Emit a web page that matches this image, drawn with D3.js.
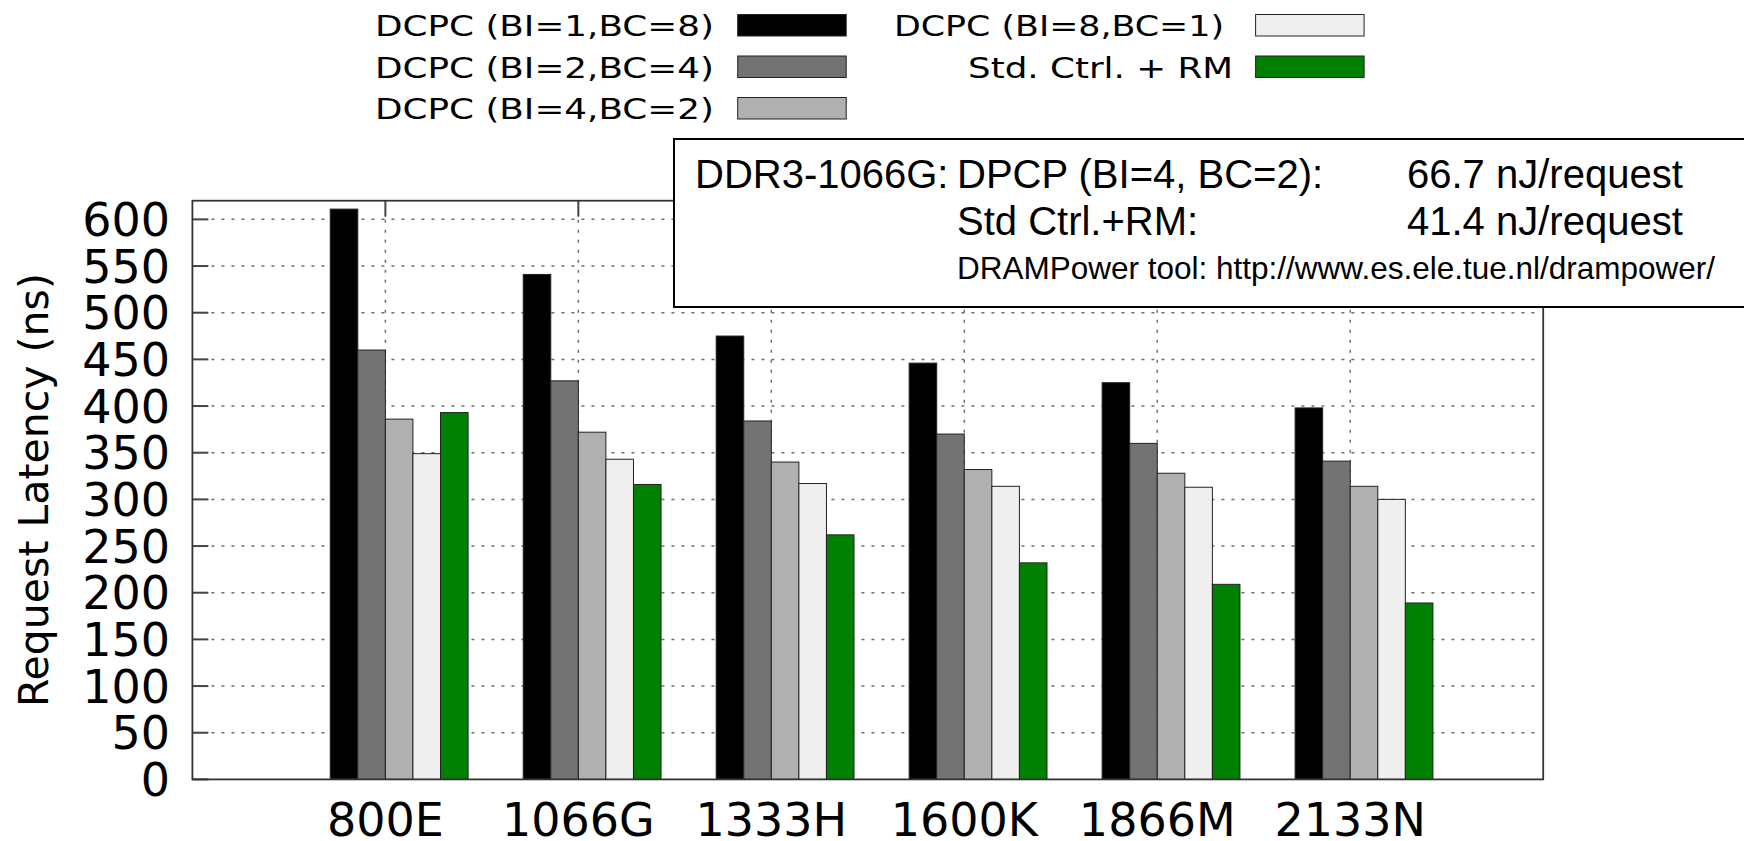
<!DOCTYPE html>
<html>
<head>
    <meta charset="utf-8">
    <title>Request Latency</title>
    <script src="https://d3js.org/d3.v7.min.js"></script>
    <style>
        body { margin: 0; background: #fff; }
        svg { display: block; }
    </style>
</head>
<body>
<svg id="chart" width="1744" height="841"></svg>

<script>
    // Categories (DDR3 speed bins)
    var categories = ["800E", "1066G", "1333H", "1600K", "1866M", "2133N"];

    // Series names and values (ns)
    var seriesNames = ["DCPC (BI=1,BC=8)", "DCPC (BI=2,BC=4)", "DCPC (BI=4,BC=2)",
                       "DCPC (BI=8,BC=1)", "Std. Ctrl. + RM"];
    var bi1bc8    = [611, 541, 475, 446, 425, 398];
    var bi2bc4    = [460, 427, 384, 370, 360, 341];
    var bi4bc2    = [386, 372, 340, 332, 328, 314];
    var bi8bc1    = [349, 343, 317, 314, 313, 300];
    var stdCtrlRm = [393, 316, 262, 232, 209, 189];
    var seriesColors = ["#000000", "#737373", "#b0b0b0", "#efefef", "#008000"];

    // Y axis ticks
    var yTicks = [0, 50, 100, 150, 200, 250, 300, 350, 400, 450, 500, 550, 600];

    // Annotation box text
    var noteHead = "DDR3-1066G:";
    var noteLabels = ["DPCP (BI=4, BC=2):", "Std Ctrl.+RM:"];
    var noteValues = ["66.7 nJ/request", "41.4 nJ/request"];
    var noteSource = "DRAMPower tool: http://www.es.ele.tue.nl/drampower/";

    var series = [bi1bc8, bi2bc4, bi4bc2, bi8bc1, stdCtrlRm];

    var svg = d3.select("#chart");

    var plotL = 192.4, plotR = 1543.2, plotT = 200.7, plotB = 779.4;

    // Scales: categories sit at 0..5, frame spans -1..6
    var x = d3.scaleLinear().domain([-1, 6]).range([plotL, plotR]);
    var y = d3.scaleLinear().domain([0, 620]).range([plotB, plotT]);
    var barW = x(1 / 7) - x(0);

    // Grid (dotted, behind the bars)
    var grid = svg.append("g")
        .attr("stroke", "#707070")
        .attr("stroke-width", 1.5)
        .attr("stroke-dasharray", "3,7");
    grid.selectAll("line.h")
        .data(yTicks.filter(function(d) { return d > 0; }))
        .enter().append("line")
        .attr("class", "h")
        .attr("x1", plotL + 19).attr("x2", plotR - 8)
        .attr("y1", function(d) { return y(d); })
        .attr("y2", function(d) { return y(d); });
    grid.selectAll("line.v")
        .data(categories)
        .enter().append("line")
        .attr("class", "v")
        .attr("x1", function(d, i) { return x(i); })
        .attr("x2", function(d, i) { return x(i); })
        .attr("y1", plotT + 19).attr("y2", plotB);

    // Bars
    series.forEach(function(values, s) {
        svg.append("g")
            .selectAll("rect")
            .data(values)
            .enter().append("rect")
            .attr("x", function(d, i) { return x(i + (s - 2) / 7); })
            .attr("y", function(d) { return y(d); })
            .attr("width", barW)
            .attr("height", function(d) { return y(0) - y(d); })
            .attr("fill", seriesColors[s])
            .attr("stroke", "#222")
            .attr("stroke-width", 1);
    });

    // Tick marks
    var ticks = svg.append("g").attr("stroke", "#444").attr("stroke-width", 2);
    ticks.selectAll("line.yt")
        .data(yTicks)
        .enter().append("line")
        .attr("class", "yt")
        .attr("x1", plotL).attr("x2", plotL + 16)
        .attr("y1", function(d) { return y(d); })
        .attr("y2", function(d) { return y(d); });
    ticks.selectAll("line.xt")
        .data(categories)
        .enter().append("line")
        .attr("class", "xt")
        .attr("x1", function(d, i) { return x(i); })
        .attr("x2", function(d, i) { return x(i); })
        .attr("y1", plotT).attr("y2", plotT + 16);

    // Frame
    svg.append("rect")
        .attr("x", plotL).attr("y", plotT)
        .attr("width", plotR - plotL).attr("height", plotB - plotT)
        .attr("fill", "none")
        .attr("stroke", "#333")
        .attr("stroke-width", 1.8);

    // Y tick labels
    svg.append("g")
        .selectAll("text")
        .data(yTicks)
        .enter().append("text")
        .attr("x", 170)
        .attr("y", function(d) { return y(d); })
        .attr("dy", "0.36em")
        .attr("text-anchor", "end")
        .style("font-family", "DejaVu Sans")
        .style("font-size", "46px")
        .text(function(d) { return d; });

    // X tick labels
    svg.append("g")
        .selectAll("text")
        .data(categories)
        .enter().append("text")
        .attr("x", function(d, i) { return x(i); })
        .attr("y", 836)
        .attr("text-anchor", "middle")
        .style("font-family", "DejaVu Sans")
        .style("font-size", "46px")
        .text(function(d) { return d; });

    // Y axis title
    svg.append("text")
        .attr("transform", "translate(48," + ((plotT + plotB) / 2) + ") rotate(-90)")
        .attr("text-anchor", "middle")
        .style("font-family", "DejaVu Sans")
        .style("font-size", "41px")
        .text("Request Latency (ns)");

    // Legend: two columns, text then swatch
    var legendPos = [
        { tx: 375, len: 339, sx: 737.7, base: 36 },
        { tx: 375, len: 339, sx: 737.7, base: 77.5 },
        { tx: 375, len: 339, sx: 737.7, base: 119 },
        { tx: 894, len: 330, sx: 1255.6, base: 36 },
        { tx: 968, len: 265, sx: 1255.6, base: 77.5 }
    ];
    var legend = svg.append("g");
    legend.selectAll("text")
        .data(seriesNames)
        .enter().append("text")
        .attr("x", function(d, i) { return legendPos[i].tx; })
        .attr("y", function(d, i) { return legendPos[i].base; })
        .attr("textLength", function(d, i) { return legendPos[i].len; })
        .attr("lengthAdjust", "spacingAndGlyphs")
        .style("font-family", "DejaVu Sans")
        .style("font-size", "29px")
        .text(function(d) { return d; });
    legend.selectAll("rect")
        .data(seriesNames)
        .enter().append("rect")
        .attr("x", function(d, i) { return legendPos[i].sx; })
        .attr("y", function(d, i) { return legendPos[i].base - 21.5; })
        .attr("width", 108.5)
        .attr("height", 21.5)
        .attr("fill", function(d, i) { return seriesColors[i]; })
        .attr("stroke", "#222")
        .attr("stroke-width", 1);

    // Annotation box
    var note = svg.append("g").style("font-family", "Liberation Sans, Arial");
    note.append("rect")
        .attr("x", 674).attr("y", 139)
        .attr("width", 1080).attr("height", 168)
        .attr("fill", "#fff")
        .attr("stroke", "#000")
        .attr("stroke-width", 2);
    note.append("text")
        .attr("x", 695).attr("y", 188)
        .style("font-size", "40px")
        .text(noteHead);
    note.selectAll("text.lab")
        .data(noteLabels)
        .enter().append("text")
        .attr("class", "lab")
        .attr("x", 957)
        .attr("y", function(d, i) { return 188 + i * 47; })
        .style("font-size", "40px")
        .text(function(d) { return d; });
    note.selectAll("text.val")
        .data(noteValues)
        .enter().append("text")
        .attr("class", "val")
        .attr("x", 1407)
        .attr("y", function(d, i) { return 188 + i * 47; })
        .style("font-size", "40px")
        .text(function(d) { return d; });
    note.append("text")
        .attr("x", 957).attr("y", 278.5)
        .style("font-size", "31.5px")
        .text(noteSource);
</script>
</body>
</html>
